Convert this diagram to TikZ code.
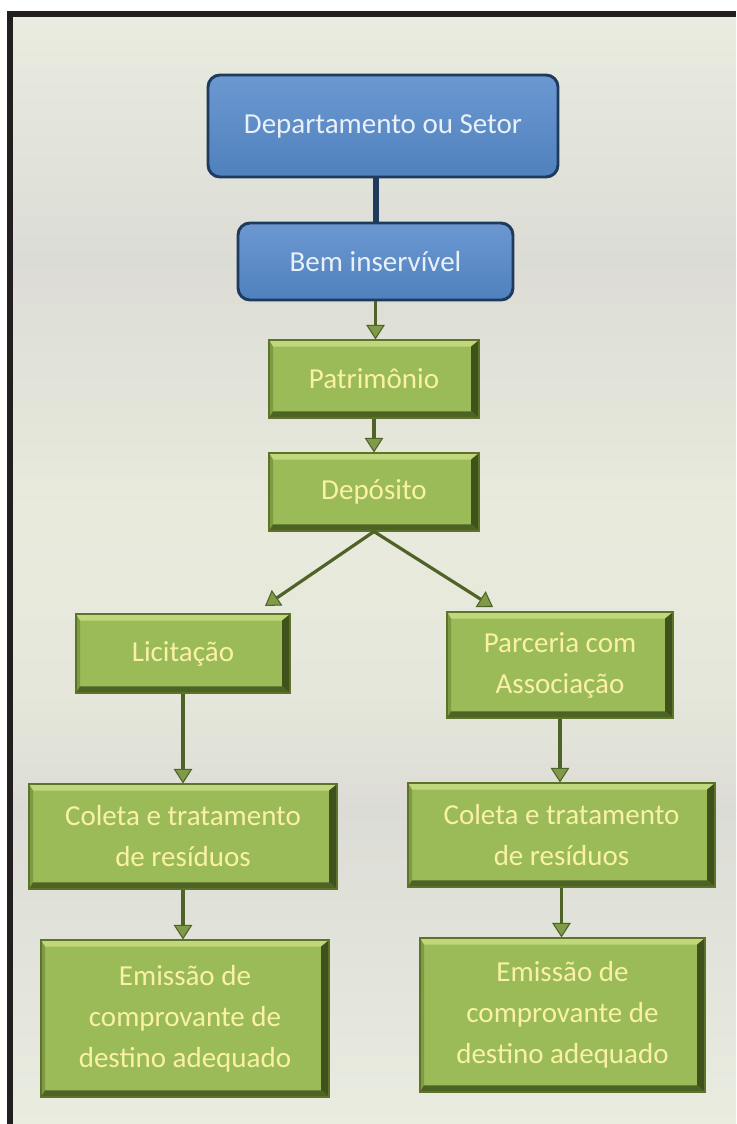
\documentclass[tikz,border=0pt]{standalone}
\usepackage{fontspec}
\setmainfont{Carlito}
\usetikzlibrary{arrows.meta}

\definecolor{bgcream}{HTML}{E9ECDF}
\definecolor{bggrey}{HTML}{DCDCD6}
\definecolor{bggreen}{HTML}{E8EBDC}
\definecolor{framecol}{HTML}{231F20}
\definecolor{bluefill}{HTML}{4F81BD}
\definecolor{bluetop}{HTML}{6C98D1}
\definecolor{blueedge}{HTML}{1E3A5C}
\definecolor{bluetext}{HTML}{EAF0F8}
\definecolor{greenfill}{HTML}{9BBB59}
\definecolor{greenlight}{HTML}{C0D77C}
\definecolor{greenside}{HTML}{7E9A43}
\definecolor{greendark}{HTML}{3F521C}
\definecolor{greenedge}{HTML}{5C7329}
\definecolor{greentext}{HTML}{FAF1A6}
\definecolor{arrowline}{HTML}{4F6228}
\definecolor{arrowhead}{HTML}{7F9A48}

\tikzset{
    boxfont/.style={font=\fontsize{21.75pt}{30.75pt}\selectfont},
    bluebox/.style={boxfont, align=center, inner sep=0pt, rounded corners=9pt,
        draw=blueedge, line width=2.2pt, top color=bluetop, bottom color=bluefill,
        text=bluetext},
    greenbox/.style={boxfont, align=center, inner sep=0pt, draw=greenedge,
        line width=0.8pt, fill=greenfill, text=greentext,
        path picture={
            \fill[greenlight] (path picture bounding box.north west) -- (path picture bounding box.north east)
                -- ([shift={(-6pt,-5pt)}]path picture bounding box.north east) -- ([shift={(3pt,-5pt)}]path picture bounding box.north west) -- cycle;
            \fill[greenside] (path picture bounding box.north west) -- ([shift={(3pt,-5pt)}]path picture bounding box.north west)
                -- ([shift={(3pt,5pt)}]path picture bounding box.south west) -- (path picture bounding box.south west) -- cycle;
            \fill[greendark] (path picture bounding box.north east) -- (path picture bounding box.south east)
                -- ([shift={(-6pt,5pt)}]path picture bounding box.south east) -- ([shift={(-6pt,-5pt)}]path picture bounding box.north east) -- cycle;
            \fill[greendark!85!greenfill] (path picture bounding box.south west) -- (path picture bounding box.south east)
                -- ([shift={(-6pt,5pt)}]path picture bounding box.south east) -- ([shift={(3pt,5pt)}]path picture bounding box.south west) -- cycle;
        }},
    flow/.style={draw=arrowline, line width=2.4pt,
        -{Triangle[width=14pt,length=11pt,line width=0.8pt,fill=arrowhead]}},
}

\begin{document}
\begin{tikzpicture}[x=0.75pt,y=-0.75pt]
    \useasboundingbox (0,0) rectangle (736,1124);
    % Background
    \fill[white] (0,0) rectangle (736,1124);
    \shade[top color=bgcream, bottom color=bggrey] (10,14) rectangle (736,260);
    \shade[top color=bggrey, bottom color=bggreen] (10,260) rectangle (736,520);
    \shade[top color=bggreen, bottom color=bggreen!70!bggrey] (10,520) rectangle (736,700);
    \shade[top color=bggreen!70!bggrey, bottom color=bggrey] (10,700) rectangle (736,810);
    \shade[top color=bggrey, bottom color=bgcream] (10,810) rectangle (736,1124);
    \draw[framecol, line width=4.5pt] (10,1124) -- (10,14.5) -- (736,14.5);

    % Upper column
    \node[bluebox, minimum width=262.5pt, minimum height=76.5pt] (dep) at (383,126) {Departamento ou Setor};
    \node[bluebox, minimum width=206.25pt, minimum height=57.75pt] (bem) at (375.5,261.5) {Bem inservível};
    \node[greenbox, minimum width=157.5pt, minimum height=58.5pt] (pat) at (374,379) {Patrimônio};
    \node[greenbox, minimum width=157.5pt, minimum height=58.5pt] (depo) at (374,492) {Depósito};

    % Left branch
    \node[greenbox, minimum width=160.5pt, minimum height=59.25pt] (lic) at (183,653.5) {Licitação};
    \node[greenbox, minimum width=231pt, minimum height=78.75pt] (colL) at (183,836.5) {Coleta e tratamento\\de resíduos};
    \node[greenbox, minimum width=216pt, minimum height=117.75pt] (emiL) at (185,1018.5) {Emissão de\\comprovante de\\destino adequado};

    % Right branch
    \node[greenbox, minimum width=169.5pt, minimum height=79.5pt] (par) at (560,665) {Parceria com\\Associação};
    \node[greenbox, minimum width=230.25pt, minimum height=78pt] (colR) at (561.5,835) {Coleta e tratamento\\de resíduos};
    \node[greenbox, minimum width=213.75pt, minimum height=115.5pt] (emiR) at (562.5,1015) {Emissão de\\comprovante de\\destino adequado};

    % Connectors
    \coordinate (licin) at (265,606);
    \coordinate (parin) at (493,607);

    \draw[blueedge, line width=4.5pt] (dep.south -| bem.north) -- (bem.north);
    \draw[flow] (bem.south) -- (bem.south |- pat.north);
    \draw[flow] (pat.south) -- (depo.north);
    \draw[flow] (depo.south) -- (licin);
    \draw[flow] (depo.south) -- (parin);
    \draw[flow] (lic.south) -- (lic.south |- colL.north);
    \draw[flow] (par.south) -- (par.south |- colR.north);
    \draw[flow] (colL.south) -- (colL.south |- emiL.north);
    \draw[flow] (colR.south) -- (colR.south |- emiR.north);
\end{tikzpicture}
\end{document}
